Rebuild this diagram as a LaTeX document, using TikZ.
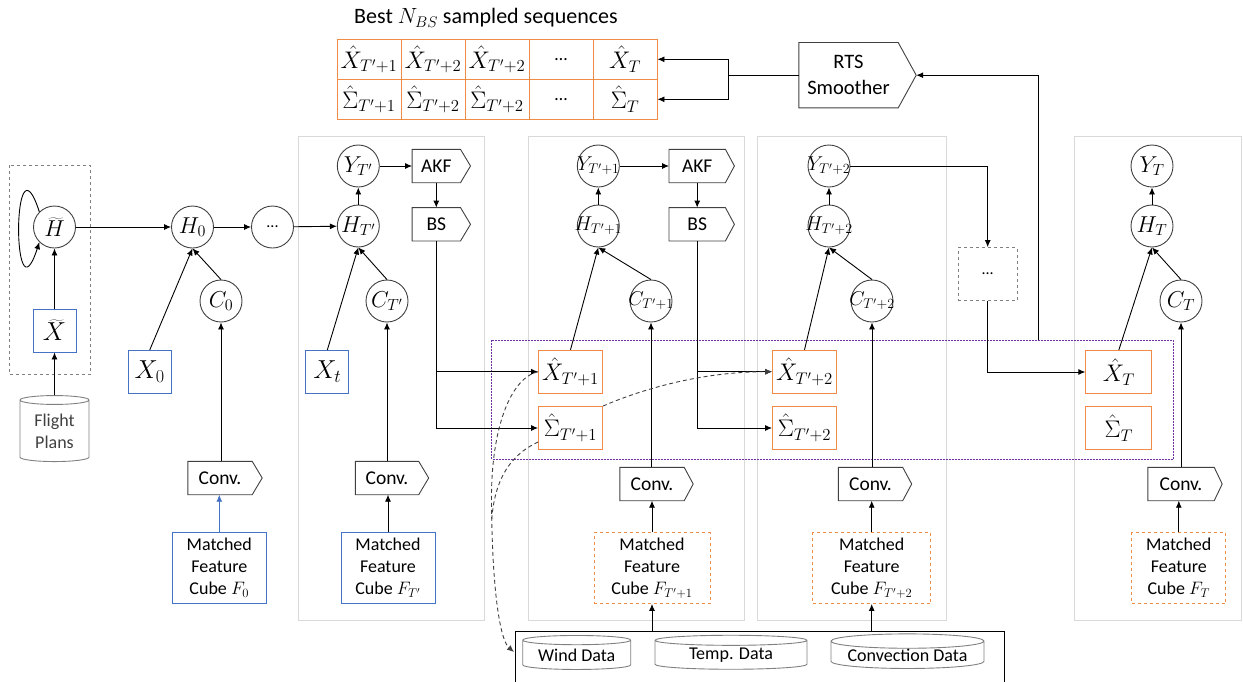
\RequirePackage{fix-cm}
\documentclass[tikz,border=0pt]{standalone}
\usepackage{fontspec}
\setmainfont{Carlito}
\usepackage{xcolor}
\usetikzlibrary{arrows.meta, shapes.geometric}

\definecolor{panelgray}{RGB}{217,217,217}
\definecolor{cubeblue}{RGB}{68,114,196}
\definecolor{seqorange}{RGB}{240,140,70}
\definecolor{samplepurple}{RGB}{112,48,160}
\definecolor{edgegray}{RGB}{64,64,64}

\newcommand{\flagshape}[2]{\draw[flagline] (#1.south west) -- (#1.north west) -- (#1.north east) -- ([xshift=#2]#1.east) -- (#1.south east) -- cycle;}
\newcommand{\inlab}[1]{\makebox[0pt]{#1}}

\begin{document}
\begin{tikzpicture}[x=1pt, y=-1pt, >={Latex[length=7pt,width=6pt]},
  every node/.style={font=\fontsize{18}{22}\selectfont},
  state/.style={circle, draw=edgegray, line width=0.9pt, minimum size=42pt, inner sep=0pt, font=\fontsize{23}{26}\selectfont},
  longsub/.style={font=\fontsize{20}{24}\selectfont},
  obsbox/.style={draw=cubeblue, line width=0.9pt, minimum size=43pt, inner sep=0pt, font=\fontsize{26}{28}\selectfont},
  samplebox/.style={draw=seqorange, line width=0.9pt, minimum width=64pt, minimum height=43pt, inner sep=0pt, font=\fontsize{24}{26}\selectfont},
  cell/.style={draw=seqorange, line width=0.9pt, minimum width=64pt, minimum height=40pt, inner sep=0pt, font=\fontsize{24}{26}\selectfont},
  flag/.style={minimum height=33pt, inner sep=0pt, font=\fontsize{19.5}{22}\selectfont},
  flagline/.style={draw=edgegray, line width=0.9pt},
  cube/.style={minimum height=71pt, inner sep=0pt, align=center, line width=0.9pt},
  datacyl/.style={cylinder, shape border rotate=90, draw=gray, line width=0.9pt, aspect=0.12, minimum height=34pt, inner sep=0pt},
  panel/.style={draw=panelgray, line width=0.9pt},
  link/.style={->, line width=0.9pt},
  feed/.style={->, line width=0.9pt, dash pattern=on 4pt off 3pt, edgegray}]
  \useasboundingbox (0,0) rectangle (1243,681);

  % time-step panels
  \foreach \l/\r in {298/484, 528/744, 757/946, 1074/1241}
    \draw[panel] (\l,136) rectangle (\r,620);
  \draw[gray, dashed, line width=0.8pt] (9,165) rectangle (90.7,374);
  \draw[samplepurple, dash pattern=on 2pt off 1pt, line width=0.9pt] (491.7,340) rectangle (1173.3,459);
  \draw[line width=0.9pt] (515,685) |- (1004,631) -- (1004,685);
  \coordinate (hubtop) at (515,631);

  % encoder
  \node[state] (ht) at (54.5,227) {\inlab{$\widetilde{H}$}};
  \node[obsbox] (xt) at (54.5,330.5) {$\widetilde{X}$};
  \node[cylinder, shape border rotate=90, draw=gray, line width=0.9pt, aspect=0.22, minimum width=69pt, minimum height=66pt, inner sep=0pt, align=center, text=edgegray] (fp) at (54.5,431) {Flight\\Plans};

  % step 0
  \node[state] (h0) at (192.5,227) {\inlab{$H_0$}};
  \node[state] (hdots) at (272.5,227) {\inlab{\fontsize{16}{18}\selectfont ...}};
  \node[state] (c0) at (221,301) {\inlab{$C_0$}};
  \node[obsbox] (x0) at (149.7,372) {$X_0$};
  \node[flag, minimum width=64pt] (conv0) at (220,478) {Conv.};
  \node[cube, draw=cubeblue, minimum width=94pt] (f0) at (219.3,568) {Matched\\Feature\\Cube $F_0$};

  % step T'
  \node[state] (y1) at (358.3,166) {\inlab{$Y_{T'}$}};
  \node[state] (h1) at (358.3,226) {\inlab{$H_{T'}$}};
  \node[state] (c1) at (387,301) {\inlab{$C_{T'}$}};
  \node[obsbox] (x1) at (327.3,372) {$X_t$};
  \node[flag, minimum width=48pt] (akf1) at (436.3,166) {AKF};
  \node[flag, minimum width=48pt] (bs1) at (436.3,224.3) {BS};
  \node[flag, minimum width=63pt] (conv1) at (387,478) {Conv.};
  \node[cube, draw=cubeblue, minimum width=94pt] (f1) at (388,568) {Matched\\Feature\\Cube $F_{T'}$};

  % step T'+1
  \node[state, longsub] (y2) at (598.3,166) {\inlab{$Y_{T'+1}$}};
  \node[state, longsub] (h2) at (598.3,226) {\inlab{$H_{T'+1}$}};
  \node[state, longsub] (c2) at (651,301) {\inlab{$C_{T'+1}$}};
  \node[flag, minimum width=56pt] (akf2) at (697.2,166) {AKF};
  \node[flag, minimum width=56pt] (bs2) at (697.2,224.3) {BS};
  \node[samplebox] (xh2) at (570.5,371.7) {$\hat{X}_{T'+1}$};
  \node[samplebox] (sg2) at (570.5,428) {$\hat{\Sigma}_{T'+1}$};
  \node[flag, minimum width=64pt] (conv2) at (652,484) {Conv.};
  \node[cube, draw=seqorange, dashed, minimum width=116pt] (f2) at (652,568) {Matched\\Feature\\Cube $F_{T'+1}$};

  % step T'+2
  \node[state, longsub] (y3) at (829,166) {\inlab{$Y_{T'+2}$}};
  \node[state, longsub] (h3) at (829,226) {\inlab{$H_{T'+2}$}};
  \node[state, longsub] (c3) at (872,301) {\inlab{$C_{T'+2}$}};
  \node[samplebox] (xh3) at (804.5,371.7) {$\hat{X}_{T'+2}$};
  \node[samplebox] (sg3) at (804.5,428) {$\hat{\Sigma}_{T'+2}$};
  \node[flag, minimum width=64pt] (conv3) at (870.5,484) {Conv.};
  \node[cube, draw=seqorange, dashed, minimum width=118pt] (f3) at (871.7,568) {Matched\\Feature\\Cube $F_{T'+2}$};

  \node[draw=gray, dashed, line width=0.8pt, minimum width=59pt, minimum height=53pt, font=\fontsize{16}{18}\selectfont] (more) at (987.7,274) {...};

  % step T
  \node[state] (y4) at (1152,166) {\inlab{$Y_T$}};
  \node[state] (h4) at (1152,226) {\inlab{$H_T$}};
  \node[state] (c4) at (1181,301) {\inlab{$C_T$}};
  \node[samplebox, minimum width=66pt] (xh4) at (1118.8,372) {$\hat{X}_T$};
  \node[samplebox, minimum width=66pt] (sg4) at (1118.8,428) {$\hat{\Sigma}_T$};
  \node[flag, minimum width=66pt] (conv4) at (1181,484) {Conv.};
  \node[cube, draw=seqorange, dashed, minimum width=94pt] (f4) at (1178.8,568) {Matched\\Feature\\Cube $F_T$};

  % weather data
  \node[datacyl, minimum width=108pt] (wind) at (576.7,655) {Wind Data};
  \node[datacyl, minimum width=152pt] (temp) at (731,655) {Temp. Data};
  \node[datacyl, minimum width=153pt] (conv) at (907.5,655) {Convection Data};

  % sampled sequences
  \node[font=\fontsize{22}{26}\selectfont] (title) at (486,18) {Best $N_{BS}$ sampled sequences};
  \foreach \lab [count=\i] in {{$\hat{X}_{T'+1}$}, {$\hat{X}_{T'+2}$}, {$\hat{X}_{T'+2}$}, {\fontsize{18}{22}\selectfont\ldots}, {$\hat{X}_T$}}
    \node[cell] (xs\i) at (305+64*\i,59.3) {\lab};
  \foreach \lab [count=\i] in {{$\hat{\Sigma}_{T'+1}$}, {$\hat{\Sigma}_{T'+2}$}, {$\hat{\Sigma}_{T'+2}$}, {\fontsize{18}{22}\selectfont\ldots}, {$\hat{\Sigma}_T$}}
    \node[cell] (ss\i) at (305+64*\i,99.3) {\lab};
  \node[flag, minimum width=99pt, minimum height=65pt, align=center, font=\fontsize{20.5}{26}\selectfont] (rts) at (848.5,75.2) {RTS\\Smoother};

  \flagshape{conv0}{10pt}
  \flagshape{conv1}{10pt}
  \flagshape{conv2}{9pt}
  \flagshape{conv3}{9pt}
  \flagshape{conv4}{8pt}
  \flagshape{akf1}{10pt}
  \flagshape{bs1}{10pt}
  \flagshape{akf2}{9pt}
  \flagshape{bs2}{9pt}
  \flagshape{rts}{18pt}

  % connectors
  \draw[link] (fp) -- (xt);
  \draw[link] (xt) -- (ht);
  \draw[link] (ht.135) .. controls (12,127) and (12,327) .. (ht.225);
  \draw[link] (ht) -- (h0);
  \draw[link] (h0) -- (hdots);
  \draw[link] (hdots) -- (h1);
  \draw[link] (x0.north) -- (h0.south);
  \draw[link] (x1.north) -- (h1.south);
  \foreach \k in {2,3,4}
    \draw[link] (xh\k.north) -- (h\k.south);
  \foreach \k in {0,...,4} {
    \draw[link] (c\k.north) -- (h\k.south);
    \draw[link] (c\k |- conv\k.north) -- (c\k.south);
  }
  \foreach \k in {1,...,4} {
    \draw[link] (h\k) -- (y\k);
    \draw[link] (f\k.north) -- (f\k.north |- conv\k.south);
  }
  \draw[link, cubeblue] (f0.north) -- (f0.north |- conv0.south);
  \draw[link] (y1) -- (akf1);
  \draw[link] (akf1) -- (bs1);
  \draw[link] (y2) -- (akf2);
  \draw[link] (akf2) -- (bs2);
  \draw[link] (bs1.south) |- (sg2.west);
  \draw[link] (bs1.south |- xh2.west) -- (xh2.west);
  \draw[link] (bs2.south) |- (sg3.west);
  \draw[link] (bs2.south |- xh3.west) -- (xh3.west);
  \draw[link] (y3.east) -| (more.north);
  \draw[link] (more.south) |- (xh4.west);
  \draw[link] (f2.south |- hubtop) -- (f2.south);
  \draw[link] (f3.south |- hubtop) -- (f3.south);

  % smoother
  \coordinate (smoothfeed) at (1038,340);
  \coordinate (rtstip) at ([xshift=18pt]rts.east);
  \coordinate (split) at (728,75.2);
  \draw[link] (smoothfeed) |- (rtstip);
  \draw[line width=0.9pt] (rts.west) -- (split);
  \draw[link] (split) |- (xs5.east);
  \draw[link] (split) |- (ss5.east);

  % sample feedback
  \coordinate (windin) at (514,652);
  \draw[feed] (xh2.west) .. controls (510,378) and (491,430) .. (491.5,500) .. controls (492,590) and (500,640) .. (windin);
  \draw[feed, -] ([yshift=-14pt]sg2.west) .. controls (510,455) and (494,480) .. (491.6,522);
  \draw[feed] (sg2.north east) .. controls (640,390) and (700,371.7) .. (xh3.west);
\end{tikzpicture}
\end{document}
